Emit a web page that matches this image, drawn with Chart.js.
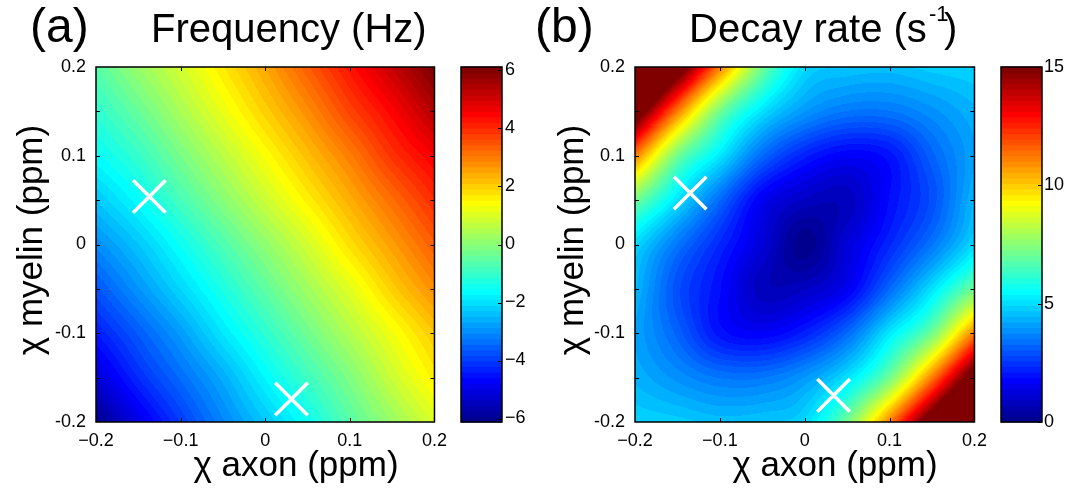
<!DOCTYPE html>
<html>
<head>
<meta charset="utf-8">
<script src="https://cdn.jsdelivr.net/npm/chart.js@4/dist/chart.umd.min.js"></script>
<style>
  html, body { margin: 0; padding: 0; background: #fff; }
  #wrap { position: relative; width: 1075px; height: 496px; overflow: hidden; background: #fff; }
  #wrap canvas { position: absolute; top: 0; }
</style>
</head>
<body>
<div id="wrap">
  <canvas id="mapA"></canvas>
  <canvas id="barA"></canvas>
  <canvas id="mapB"></canvas>
  <canvas id="barB"></canvas>
</div>
<script>
// ---- sample grid (ppm) ----
const axonPpm   = [-0.2, -0.15, -0.1, -0.05, 0, 0.05, 0.1, 0.15, 0.2];
const myelinPpm = [0.2, 0.15, 0.1, 0.05, 0, -0.05, -0.1, -0.15, -0.2];   // rows, top to bottom

// (a) frequency offset, Hz (rows follow myelinPpm, columns follow axonPpm)
const freqHz = [
  [-0.6,  0.2,  0.9,  1.7,  2.5,  3.4,  4.3,  5.2,  6.1],
  [-1.1, -0.4,  0.4,  1.2,  2.0,  2.8,  3.7,  4.5,  5.4],
  [-1.6, -1.0, -0.2,  0.6,  1.4,  2.2,  3.0,  3.9,  4.6],
  [-2.3, -1.6, -0.8,  0.0,  0.8,  1.6,  2.4,  3.2,  4.0],
  [-3.0, -2.3, -1.5, -0.7,  0.1,  0.9,  1.8,  2.6,  3.4],
  [-3.7, -2.9, -2.1, -1.3, -0.5,  0.3,  1.1,  2.0,  2.8],
  [-4.4, -3.6, -2.8, -1.9, -1.1, -0.3,  0.5,  1.3,  2.1],
  [-5.2, -4.2, -3.4, -2.6, -1.7, -0.9, -0.1,  0.8,  1.6],
  [-6.1, -5.0, -4.0, -3.1, -2.3, -1.5, -0.6,  0.2,  1.0]
];

// (b) decay rate, 1/s
const decayRate = [
  [21.0, 16.2, 11.2,  7.2,  5.0,  4.7,  4.6,  4.8,  4.9],
  [16.2, 11.2,  7.2,  5.1,  4.0,  3.5,  3.5,  3.9,  4.4],
  [11.2,  7.2,  5.2,  3.3,  2.2,  1.7,  2.0,  3.2,  4.2],
  [ 7.2,  5.1,  3.3,  1.6,  0.9,  0.8,  1.9,  2.9,  4.5],
  [ 5.0,  3.5,  2.3,  1.2,  0.1,  1.2,  2.3,  3.5,  5.0],
  [ 4.5,  2.9,  1.9,  0.8,  0.9,  1.6,  3.3,  5.1,  7.2],
  [ 4.2,  3.2,  2.0,  1.7,  2.2,  3.3,  5.2,  7.2, 11.2],
  [ 4.4,  3.9,  3.5,  3.5,  4.0,  5.1,  7.2, 11.2, 16.2],
  [ 4.9,  4.8,  4.6,  4.7,  5.0,  7.2, 11.2, 16.2, 21.0]
];

// white cross markers
const crossAxonA   = [-0.137, 0.031];
const crossMyelinA = [0.054, -0.174];
const crossAxonB   = [-0.135, 0.034];
const crossMyelinB = [0.058, -0.170];

// axes and colour scales
const axisTicks     = [-0.2, -0.1, 0, 0.1, 0.2];
const sideTickMarks = [-0.15, -0.1, -0.05, 0, 0.05, 0.1, 0.15];
const edgeTickMarks = [-0.1, 0, 0.1];
const freqTicks   = [-6, -4, -2, 0, 2, 4, 6];
const freqLimits  = [-6.12, 6.12];
const decayTicks  = [0, 5, 10, 15];
const decayLimits = [0, 15];

const FONT = '"Liberation Sans", Arial, Helvetica, sans-serif';
const H = 496;

// 64-level jet colour table
function jet64() {
  const m = 64, n = 16, u = [];
  for (let i = 1; i <= n; i++) u.push(i / n);
  for (let i = 1; i < n; i++) u.push(1);
  for (let i = n; i >= 1; i--) u.push(i / n);
  const J = Array.from({ length: m }, () => [0, 0, 0]);
  const g0 = Math.ceil(n / 2) - (m % 4 === 1 ? 1 : 0);
  for (let i = 0; i < u.length; i++) {
    const g = g0 + i + 1, r = g + n, b = g - n;
    if (g >= 1 && g <= m) J[g - 1][1] = u[i];
    if (r >= 1 && r <= m) J[r - 1][0] = u[i];
    if (b >= 1 && b <= m) J[b - 1][2] = u[i];
  }
  return J.map(c => c.map(v => Math.round(v * 255)));
}
const JET = jet64();
function jetIndex(v, lim) {
  let k = Math.floor((v - lim[0]) / (lim[1] - lim[0]) * 64);
  return Math.max(0, Math.min(63, k));
}

// smooth (Catmull-Rom) shading between grid samples
function cr(p0, p1, p2, p3, t) {
  return p1 + 0.5 * t * (p2 - p0 + t * (2 * p0 - 5 * p1 + 4 * p2 - p3 + t * (3 * (p1 - p2) + p3 - p0)));
}
function cellAt(g, i, j) {
  const R = g.length, C = g[0].length;
  if (i < 0) return 2 * cellAt(g, 0, j) - cellAt(g, 1, j);
  if (i > R - 1) return 2 * cellAt(g, R - 1, j) - cellAt(g, R - 2, j);
  if (j < 0) return 2 * cellAt(g, i, 0) - cellAt(g, i, 1);
  if (j > C - 1) return 2 * cellAt(g, i, C - 1) - cellAt(g, i, C - 2);
  return g[i][j];
}
function sampleGrid(g, gi, gj) {
  const i = Math.min(Math.floor(gi), g.length - 2);
  const j = Math.min(Math.floor(gj), g[0].length - 2);
  const ti = gi - i, tj = gj - j;
  const r = [];
  for (let k = -1; k <= 2; k++) {
    r.push(cr(cellAt(g, i + k, j - 1), cellAt(g, i + k, j), cellAt(g, i + k, j + 1), cellAt(g, i + k, j + 2), tj));
  }
  return cr(r[0], r[1], r[2], r[3], ti);
}

function fieldPlugin(grid, lim) {
  return {
    id: 'fieldShade',
    beforeDatasetsDraw(chart) {
      const { ctx, chartArea: a, scales: { x, y } } = chart;
      const L = Math.round(a.left), T = Math.round(a.top);
      const w = Math.round(a.right) - L, h = Math.round(a.bottom) - T;
      const off = document.createElement('canvas');
      off.width = w; off.height = h;
      const octx = off.getContext('2d');
      const img = octx.createImageData(w, h);
      const dx = axonPpm[1] - axonPpm[0], dy = myelinPpm[1] - myelinPpm[0];
      const nI = grid.length - 1, nJ = grid[0].length - 1;
      for (let py = 0; py < h; py++) {
        const yv = y.getValueForPixel(T + py + 0.5);
        const gi = Math.max(0, Math.min(nI, (yv - myelinPpm[0]) / dy));
        for (let px = 0; px < w; px++) {
          const xv = x.getValueForPixel(L + px + 0.5);
          const gj = Math.max(0, Math.min(nJ, (xv - axonPpm[0]) / dx));
          const c = JET[jetIndex(sampleGrid(grid, gi, gj), lim)];
          const o = (py * w + px) * 4;
          img.data[o] = c[0]; img.data[o + 1] = c[1]; img.data[o + 2] = c[2]; img.data[o + 3] = 255;
        }
      }
      octx.putImageData(img, 0, 0);
      ctx.drawImage(off, L, T);
    }
  };
}

// axes box with inward tick marks
const framePlugin = {
  id: 'axesBox',
  afterDraw(chart) {
    const { ctx, chartArea: a, scales: { x, y } } = chart;
    ctx.save();
    ctx.strokeStyle = '#000';
    ctx.lineWidth = 1.5;
    ctx.strokeRect(a.left, a.top, a.right - a.left, a.bottom - a.top);
    ctx.lineWidth = 1;
    ctx.beginPath();
    edgeTickMarks.forEach(v => {
      const px = Math.round(x.getPixelForValue(v)) + 0.5;
      ctx.moveTo(px, a.bottom); ctx.lineTo(px, a.bottom - 4);
      ctx.moveTo(px, a.top); ctx.lineTo(px, a.top + 4);
    });
    sideTickMarks.forEach(v => {
      const py = Math.round(y.getPixelForValue(v)) + 0.5;
      ctx.moveTo(a.left, py); ctx.lineTo(a.left + 4, py);
      ctx.moveTo(a.right, py); ctx.lineTo(a.right - 4, py);
    });
    ctx.stroke();
    ctx.restore();
  }
};

function labelsPlugin(pageLeft, items) {
  return {
    id: 'panelText',
    afterDraw(chart) {
      const ctx = chart.ctx;
      ctx.save();
      ctx.fillStyle = '#000';
      ctx.textBaseline = 'alphabetic';
      items.forEach(it => {
        ctx.font = it.size + 'px ' + FONT;
        ctx.textAlign = it.align || 'left';
        if (it.rotate) {
          ctx.save();
          ctx.translate(it.x - pageLeft, it.y);
          ctx.rotate(-Math.PI / 2);
          ctx.fillText(it.text, 0, 0);
          ctx.restore();
        } else {
          ctx.fillText(it.text, it.x - pageLeft, it.y);
        }
      });
      ctx.restore();
    }
  };
}

function fmtAxis(v, minus) {
  if (Math.abs(v) < 1e-9) return '0';
  return (v < 0 ? minus : '') + Math.abs(v).toFixed(1);
}

function sizeCanvas(id, left, w) {
  const cv = document.getElementById(id);
  cv.width = w; cv.height = H;
  cv.style.left = left + 'px'; cv.style.width = w + 'px'; cv.style.height = H + 'px';
  return cv;
}

function mapChart(id, pageLeft, canvasW, areaLeft, areaRight, grid, lim, cx, cy, texts) {
  const cv = sizeCanvas(id, pageLeft, canvasW);
  const tickFont = { family: FONT, size: 18 };
  return new Chart(cv, {
    type: 'scatter',
    data: {
      datasets: [{
        data: cx.map((v, i) => ({ x: v, y: cy[i] })),
        pointStyle: 'crossRot',
        pointRadius: 23, pointHoverRadius: 23,
        pointBorderColor: '#fff', pointBackgroundColor: '#fff',
        pointBorderWidth: 3.5, pointHoverBorderWidth: 3.5,
        borderColor: '#fff', backgroundColor: '#fff'
      }]
    },
    options: {
      responsive: false, animation: false, devicePixelRatio: 1,
      events: [],
      layout: { autoPadding: false, padding: { left: 0, top: 67, right: canvasW - areaRight, bottom: 0 } },
      plugins: { legend: { display: false }, tooltip: { enabled: false } },
      scales: {
        x: {
          type: 'linear', position: 'bottom', min: -0.2, max: 0.2,
          afterBuildTicks(s) { s.ticks = axisTicks.map(v => ({ value: v })); },
          afterFit(s) { s.height = H - 422; },
          ticks: { color: '#000', font: tickFont, padding: 8, autoSkip: false, maxRotation: 0, minRotation: 0,
                   callback: v => fmtAxis(v, '\u2212') },
          grid: { display: false, drawTicks: false },
          border: { display: false }
        },
        y: {
          type: 'linear', position: 'left', min: -0.2, max: 0.2,
          afterBuildTicks(s) { s.ticks = axisTicks.map(v => ({ value: v })); },
          afterFit(s) { s.width = areaLeft; },
          ticks: { color: '#000', font: tickFont, padding: 10, autoSkip: false,
                   callback: v => fmtAxis(v, '-') },
          grid: { display: false, drawTicks: false },
          border: { display: false }
        }
      }
    },
    plugins: [fieldPlugin(grid, lim), framePlugin, labelsPlugin(pageLeft, texts)]
  });
}

function colorbarPlugin(lim, ticks) {
  return {
    id: 'colorbarFill',
    beforeDatasetsDraw(chart) {
      const { ctx, chartArea: a, scales: { y } } = chart;
      ctx.save();
      for (let k = 0; k < 64; k++) {
        const v0 = lim[0] + k * (lim[1] - lim[0]) / 64;
        const v1 = lim[0] + (k + 1) * (lim[1] - lim[0]) / 64;
        const y0 = y.getPixelForValue(v0), y1 = y.getPixelForValue(v1);
        const c = JET[k];
        ctx.fillStyle = 'rgb(' + c[0] + ',' + c[1] + ',' + c[2] + ')';
        ctx.fillRect(a.left, y1 - 0.5, a.right - a.left, y0 - y1 + 1);
      }
      ctx.restore();
    },
    afterDraw(chart) {
      const { ctx, chartArea: a, scales: { y } } = chart;
      ctx.save();
      ctx.strokeStyle = '#000';
      ctx.lineWidth = 1.5;
      ctx.strokeRect(a.left, a.top, a.right - a.left, a.bottom - a.top);
      ctx.lineWidth = 1;
      ctx.beginPath();
      ticks.forEach(v => {
        const py = Math.round(y.getPixelForValue(v)) + 0.5;
        ctx.moveTo(a.right, py); ctx.lineTo(a.right - 4, py);
      });
      ctx.stroke();
      ctx.restore();
    }
  };
}

function barChart(id, pageLeft, canvasW, areaLeft, areaRight, lim, ticks, pad) {
  const cv = sizeCanvas(id, pageLeft, canvasW);
  return new Chart(cv, {
    type: 'scatter',
    data: { datasets: [] },
    options: {
      responsive: false, animation: false, devicePixelRatio: 1,
      events: [],
      layout: { autoPadding: false, padding: { left: areaLeft, top: 67, right: 0, bottom: H - 422 } },
      plugins: { legend: { display: false }, tooltip: { enabled: false } },
      scales: {
        x: { display: false, min: 0, max: 1 },
        y: {
          type: 'linear', position: 'right', min: lim[0], max: lim[1],
          afterBuildTicks(s) { s.ticks = ticks.map(v => ({ value: v })); },
          afterFit(s) { s.width = canvasW - areaRight; },
          ticks: { color: '#000', font: { family: FONT, size: 18 }, padding: pad, autoSkip: false,
                   callback: v => (v < 0 ? '\u2212' : '') + Math.abs(v) },
          grid: { display: false, drawTicks: false },
          border: { display: false }
        }
      }
    },
    plugins: [colorbarPlugin(lim, ticks)]
  });
}

// panel (a): frequency
mapChart('mapA', 0, 455, 96, 453, freqHz, freqLimits, crossAxonA, crossMyelinA, [
  { text: '(a)', x: 30, y: 42, size: 48 },
  { text: 'Frequency (Hz)', x: 151, y: 42, size: 40 },
  { text: 'χ axon (ppm)', x: 296, y: 476, size: 35, align: 'center' },
  { text: 'χ myelin (ppm)', x: 42, y: 240, size: 35, align: 'center', rotate: true }
]);
barChart('barA', 455, 85, 6, 47, freqLimits, freqTicks, 3);

// panel (b): decay rate
mapChart('mapB', 530, 465, 105, 461, decayRate, decayLimits, crossAxonB, crossMyelinB, [
  { text: '(b)', x: 535, y: 42, size: 48 },
  { text: 'Decay rate (s', x: 689, y: 42, size: 40 },
  { text: '-1', x: 929, y: 21, size: 22 },
  { text: ')', x: 944, y: 42, size: 40 },
  { text: 'χ axon (ppm)', x: 835, y: 476, size: 35, align: 'center' },
  { text: 'χ myelin (ppm)', x: 583, y: 240, size: 35, align: 'center', rotate: true }
]);
barChart('barB', 995, 80, 6, 47, decayLimits, decayTicks, 2);
</script>
</body>
</html>
